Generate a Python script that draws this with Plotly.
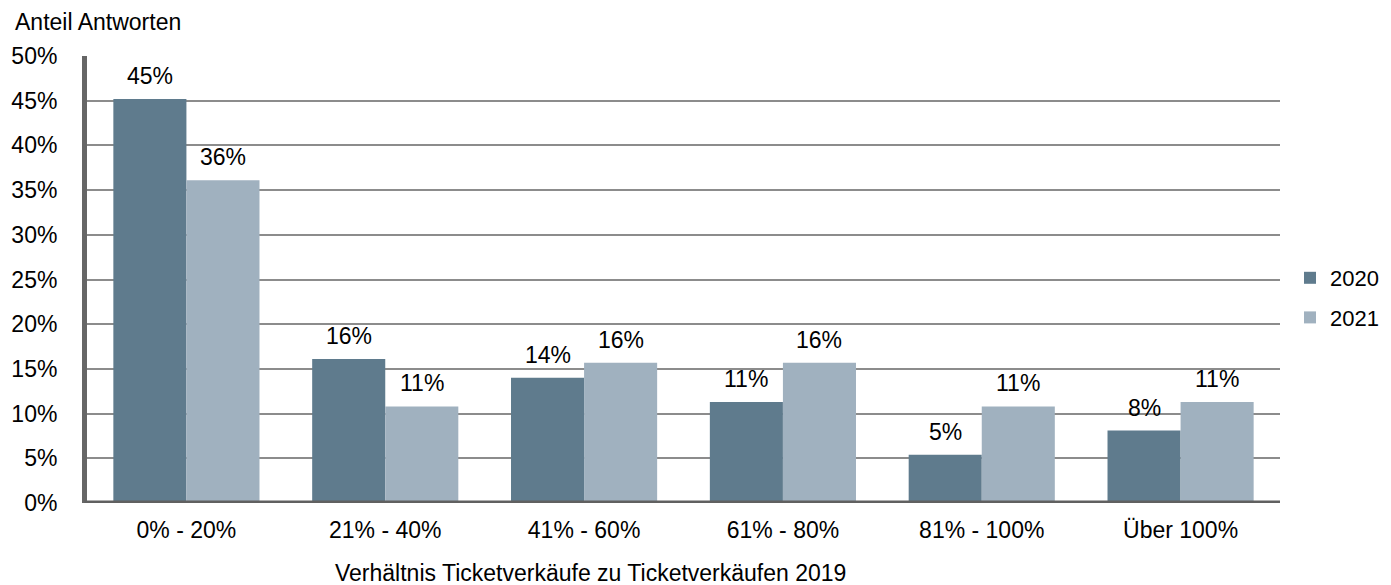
import plotly.graph_objects as go

categories = ["0% - 20%", "21% - 40%", "41% - 60%", "61% - 80%", "81% - 100%", "Über 100%"]
values_2020 = [45.2, 16.1, 14.0, 11.3, 5.4, 8.1]
values_2021 = [36.1, 10.8, 15.7, 15.7, 10.8, 11.3]
y_ticks = [0, 5, 10, 15, 20, 25, 30, 35, 40, 45, 50]
y_ticktext = [f"{v}%" for v in y_ticks]

OFF = 8  # page body margin offset
W, H = 1391 - OFF, 585 - OFF
ML, MR, MT, MB = 87 - OFF, 111, 56 - OFF, 82
PW, PH = W - ML - MR, H - MT - MB
FONT = "Liberation Sans, Arial, sans-serif"
FS = 23


def px_x(x):
    return (x - OFF - ML) / PW


def px_y(y):
    return (H - MB - (y - OFF)) / PH


c2020 = "#5f7b8d"
c2021 = "#a0b1bf"

fig = go.Figure()
fig.add_trace(go.Bar(name="2020", x=categories, y=values_2020, legendgroup="g2020",
                     marker=dict(color=c2020, line=dict(width=0))))
fig.add_trace(go.Bar(name="2021", x=categories, y=values_2021, legendgroup="g2021",
                     marker=dict(color=c2021, line=dict(width=0))))

bargap = 0.265
cat_px = PW / len(categories)
half_bar = cat_px * (1 - bargap) / 4

annotations = []
for cat, v in zip(categories, values_2020):
    annotations.append(dict(x=cat, y=v, text=f"{round(v)}%", showarrow=False, xshift=-half_bar,
                            yshift=23, yanchor="middle", font=dict(size=FS, color="#000", family=FONT)))
for cat, v in zip(categories, values_2021):
    annotations.append(dict(x=cat, y=v, text=f"{round(v)}%", showarrow=False, xshift=half_bar,
                            yshift=23, yanchor="middle", font=dict(size=FS, color="#000", family=FONT)))

annotations.append(dict(xref="paper", yref="paper", x=px_x(14), y=px_y(8),
                        text="Anteil Antworten", showarrow=False, xanchor="left", yanchor="top",
                        borderpad=0, font=dict(size=FS, color="#000", family=FONT)))
annotations.append(dict(xref="paper", yref="paper", x=px_x(590), y=px_y(573),
                        text="Verhältnis Ticketverkäufe zu Ticketverkäufen 2019", showarrow=False,
                        xanchor="center", yanchor="middle", borderpad=0,
                        font=dict(size=FS, color="#000", family=FONT)))

fig.update_layout(
    width=W, height=H,
    margin=dict(l=ML, r=MR, t=MT, b=MB, autoexpand=False),
    paper_bgcolor="white", plot_bgcolor="white",
    barmode="group", bargap=bargap, bargroupgap=0,
    font=dict(family=FONT, size=FS, color="#000"),
    showlegend=True,
    legend=dict(x=px_x(1290), y=px_y(298), xanchor="left", yanchor="middle",
                font=dict(size=22, family=FONT), traceorder="grouped", tracegroupgap=8,
                itemwidth=30, bgcolor="rgba(0,0,0,0)"),
    annotations=annotations,
    xaxis=dict(showgrid=False, showline=False, ticks="", tickfont=dict(size=FS),
               ticklabelstandoff=11, automargin=False),
    yaxis=dict(range=[0, 50], tickvals=y_ticks, ticktext=y_ticktext, showgrid=True, gridcolor="#8c8c8c",
               gridwidth=1.5, zeroline=False, showline=True, linecolor="#666666", linewidth=5,
               ticks="", tickfont=dict(size=FS), ticklabelstandoff=20, automargin=False),
)

fig.add_shape(type="line", xref="paper", yref="y", x0=-0.002, x1=1, y0=0, y1=0,
              line=dict(color="#606060", width=5), layer="above")

fig.write_html("out.html")
